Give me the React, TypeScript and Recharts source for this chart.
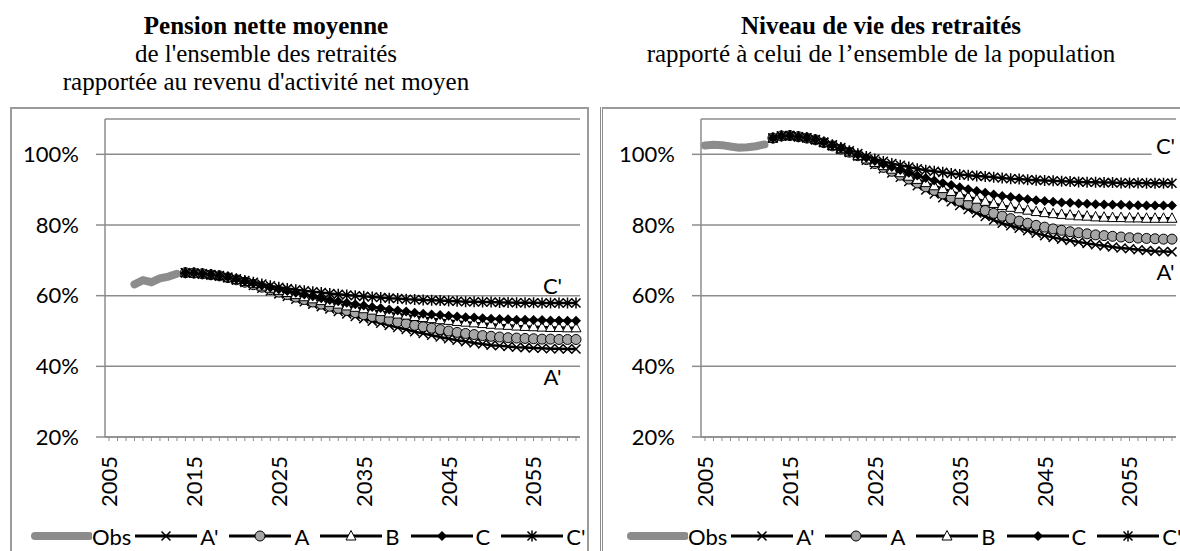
import React from 'react'
import { LineChart, Line, XAxis, YAxis, CartesianGrid, Legend, ReferenceDot } from 'recharts'

const years = [
  2005, 2006, 2007, 2008, 2009, 2010, 2011, 2012, 2013, 2014,
  2015, 2016, 2017, 2018, 2019, 2020, 2021, 2022, 2023, 2024,
  2025, 2026, 2027, 2028, 2029, 2030, 2031, 2032, 2033, 2034,
  2035, 2036, 2037, 2038, 2039, 2040, 2041, 2042, 2043, 2044,
  2045, 2046, 2047, 2048, 2049, 2050, 2051, 2052, 2053, 2054,
  2055, 2056, 2057, 2058, 2059, 2060,
]
const labelYears = [2005, 2015, 2025, 2035, 2045, 2055]
const yTicks = [20, 40, 60, 80, 100]

// Pension nette moyenne / revenu d'activité net moyen (%)
const pensionObsStart = 2008
const pensionObs = [63.2, 64.4, 63.8, 64.9, 65.4, 66.2]
const pensionProjStart = 2014
const pensionAp = [
  66.5, 66.4, 66.1, 65.8, 65.5, 65.0, 64.4, 63.7, 62.9, 62.1, 61.3, 60.5,
  59.8, 59.0, 58.3, 57.6, 56.9, 56.2, 55.5, 54.8, 54.1, 53.5, 52.8, 52.2,
  51.6, 51.0, 50.4, 49.8, 49.3, 48.8, 48.3, 47.8, 47.4, 47.0, 46.6, 46.3,
  46.0, 45.8, 45.6, 45.4, 45.3, 45.2, 45.1, 45.0, 45.0, 44.9, 44.9,
]
const pensionA = [
  66.5, 66.4, 66.2, 65.9, 65.6, 65.1, 64.5, 63.8, 63.1, 62.4, 61.7, 61.0,
  60.3, 59.6, 58.9, 58.2, 57.6, 57.0, 56.4, 55.8, 55.2, 54.6, 54.1, 53.6,
  53.1, 52.6, 52.1, 51.6, 51.2, 50.8, 50.4, 50.0, 49.6, 49.3, 49.0, 48.7,
  48.5, 48.3, 48.1, 48.0, 47.9, 47.8, 47.7, 47.7, 47.6, 47.6, 47.6,
]
const pensionB = [
  66.5, 66.4, 66.2, 66.0, 65.7, 65.2, 64.6, 64.0, 63.4, 62.7, 62.1, 61.5,
  60.9, 60.3, 59.7, 59.1, 58.6, 58.1, 57.6, 57.1, 56.7, 56.3, 55.9, 55.5,
  55.1, 54.8, 54.5, 54.1, 53.8, 53.5, 53.2, 53.0, 52.7, 52.5, 52.3, 52.1,
  51.9, 51.7, 51.6, 51.4, 51.3, 51.2, 51.1, 51.0, 51.0, 50.9, 50.9,
]
const pensionC = [
  66.5, 66.4, 66.2, 66.0, 65.7, 65.3, 64.7, 64.1, 63.5, 62.9, 62.3, 61.8,
  61.3, 60.8, 60.3, 59.8, 59.3, 58.8, 58.4, 58.0, 57.6, 57.2, 56.8, 56.5,
  56.1, 55.8, 55.5, 55.2, 54.9, 54.7, 54.5, 54.3, 54.1, 53.9, 53.8, 53.6,
  53.5, 53.4, 53.3, 53.2, 53.2, 53.1, 53.1, 53.0, 53.0, 52.9, 52.9,
]
const pensionCp = [
  66.5, 66.4, 66.2, 66.0, 65.7, 65.3, 64.8, 64.3, 63.8, 63.3, 62.8, 62.4,
  62.0, 61.7, 61.4, 61.1, 60.9, 60.6, 60.4, 60.2, 60.0, 59.8, 59.6, 59.5,
  59.3, 59.2, 59.0, 58.9, 58.8, 58.7, 58.6, 58.5, 58.4, 58.3, 58.3, 58.2,
  58.2, 58.1, 58.1, 58.0, 58.0, 58.0, 57.9, 57.9, 57.9, 57.9, 57.9,
]

// Niveau de vie des retraités / ensemble de la population (%)
const niveauObsStart = 2005
const niveauObs = [102.5, 102.7, 102.6, 102.2, 101.9, 102.0, 102.3, 102.8]
const niveauProjStart = 2013
const niveauAp = [
  104.6, 105.2, 105.3, 105.0, 104.6, 104.1, 103.3, 102.4, 101.4, 100.5,
  99.5, 98.3, 97.1, 95.9, 94.7, 93.5, 92.3, 91.1, 89.9, 88.8, 87.7, 86.6,
  85.5, 84.4, 83.4, 82.4, 81.4, 80.5, 79.8, 79.1, 78.4, 77.7, 77.0, 76.5,
  76.0, 75.6, 75.2, 74.8, 74.4, 74.1, 73.8, 73.5, 73.3, 73.0, 72.8, 72.6,
  72.5, 72.4,
]
const niveauA = [
  104.6, 105.2, 105.3, 105.0, 104.6, 104.1, 103.3, 102.4, 101.5, 100.6,
  99.6, 98.5, 97.4, 96.3, 95.2, 94.1, 93.0, 91.9, 90.8, 89.8, 88.8, 87.8,
  86.8, 85.9, 85.0, 84.1, 83.3, 82.5, 81.8, 81.1, 80.5, 79.9, 79.4, 78.9,
  78.5, 78.1, 77.8, 77.5, 77.2, 77.0, 76.8, 76.6, 76.4, 76.3, 76.2, 76.1,
  76.0, 76.0,
]
const niveauB = [
  104.6, 105.2, 105.3, 105.0, 104.7, 104.2, 103.4, 102.5, 101.6, 100.7,
  99.7, 98.7, 97.7, 96.8, 95.8, 94.8, 93.8, 92.9, 92.0, 91.1, 90.3, 89.5,
  88.7, 88.0, 87.3, 86.7, 86.1, 85.5, 85.0, 84.6, 84.2, 83.8, 83.5, 83.2,
  83.0, 82.8, 82.6, 82.5, 82.3, 82.2, 82.1, 82.1, 82.0, 82.0, 81.9, 81.9,
  81.9, 81.9,
]
const niveauC = [
  104.6, 105.2, 105.3, 105.0, 104.7, 104.2, 103.4, 102.6, 101.7, 100.8,
  99.9, 99.0, 98.1, 97.2, 96.4, 95.6, 94.8, 94.0, 93.3, 92.6, 91.9, 91.3,
  90.7, 90.1, 89.6, 89.1, 88.6, 88.2, 87.9, 87.6, 87.3, 87.0, 86.8, 86.6,
  86.4, 86.3, 86.1, 86.0, 85.9, 85.8, 85.7, 85.7, 85.6, 85.6, 85.5, 85.5,
  85.5, 85.5,
]
const niveauCp = [
  104.6, 105.2, 105.3, 105.0, 104.7, 104.2, 103.5, 102.7, 101.9, 101.0,
  100.2, 99.4, 98.7, 98.0, 97.4, 96.9, 96.4, 95.9, 95.5, 95.2, 94.9, 94.6,
  94.3, 94.1, 93.9, 93.7, 93.5, 93.3, 93.1, 93.0, 92.8, 92.7, 92.6, 92.5,
  92.4, 92.3, 92.2, 92.1, 92.1, 92.0, 92.0, 91.9, 91.9, 91.9, 91.8, 91.8,
  91.8, 91.8,
]

const GRAY = '#8c8c8c'
const SANS = 'Lato, "Noto Sans", sans-serif'
const SERIF = '"Liberation Serif", "Times New Roman", serif'

function buildRows(
  obsStart: number,
  obs: number[],
  projStart: number,
  proj: Record<string, number[]>,
) {
  return years.map((year) => {
    const row: Record<string, number | null> = { year }
    const oi = year - obsStart
    row.Obs = oi >= 0 && oi < obs.length ? obs[oi] : null
    const pi = year - projStart
    Object.keys(proj).forEach((k) => {
      row[k] = pi >= 0 && pi < proj[k].length ? proj[k][pi] : null
    })
    return row
  })
}

const pensionRows = buildRows(pensionObsStart, pensionObs, pensionProjStart, {
  Ap: pensionAp, A: pensionA, B: pensionB, C: pensionC, Cp: pensionCp,
})
const niveauRows = buildRows(niveauObsStart, niveauObs, niveauProjStart, {
  Ap: niveauAp, A: niveauA, B: niveauB, C: niveauC, Cp: niveauCp,
})

// marker shapes
function Marker({ kind, cx, cy }: { kind: string; cx: number; cy: number }) {
  const s = 4.5
  if (kind === 'Ap')
    return (
      <path
        d={`M${cx - s},${cy - s}L${cx + s},${cy + s}M${cx + s},${cy - s}L${cx - s},${cy + s}`}
        stroke="#000" strokeWidth={1.5} fill="none"
      />
    )
  if (kind === 'A')
    return <circle cx={cx} cy={cy} r={5} fill="#a6a6a6" stroke="#000" strokeWidth={1} />
  if (kind === 'B')
    return (
      <path
        d={`M${cx},${cy - 5.5}L${cx + 5},${cy + 4}L${cx - 5},${cy + 4}Z`}
        fill="#fff" stroke="#000" strokeWidth={1}
      />
    )
  if (kind === 'C')
    return <path d={`M${cx},${cy - 5}L${cx + 5},${cy}L${cx},${cy + 5}L${cx - 5},${cy}Z`} fill="#000" />
  return (
    <path
      d={`M${cx - s},${cy - s}L${cx + s},${cy + s}M${cx + s},${cy - s}L${cx - s},${cy + s}M${cx},${cy - 5.5}L${cx},${cy + 5.5}`}
      stroke="#000" strokeWidth={1.5} fill="none"
    />
  )
}

const makeDot = (kind: string) => (props: any) => {
  const { cx, cy, index } = props
  if (cx == null || cy == null || props.value == null) return <g key={`${kind}-${index}`} />
  return (
    <g key={`${kind}-${index}`}>
      <Marker kind={kind} cx={cx} cy={cy} />
    </g>
  )
}

function YearTick(props: any) {
  const { x, y, payload } = props
  if (!labelYears.includes(payload.value)) return <g />
  return (
    <text
      transform={`translate(${x},${y}) rotate(-90)`}
      textAnchor="end" dy="0.36em"
      fontFamily={SANS} fontSize={22} fill="#000"
    >
      {payload.value}
    </text>
  )
}

function NoteLabel(props: any) {
  const { viewBox, text, dx = 0, bg } = props
  const cx = viewBox.x + (viewBox.width || 0) / 2 + dx
  const cy = viewBox.y + (viewBox.height || 0) / 2
  return (
    <g>
      {bg && <rect x={cx - 14} y={cy - 12} width={28} height={24} fill="#fff" />}
      <text x={cx} y={cy} dy="0.36em" textAnchor="middle" fontFamily={SANS} fontSize={22} fill="#000">
        {text}
      </text>
    </g>
  )
}

const legendItems = [
  { key: 'Ap', label: "A'" },
  { key: 'A', label: 'A' },
  { key: 'B', label: 'B' },
  { key: 'C', label: 'C' },
  { key: 'Cp', label: "C'" },
]

function LegendRow() {
  return (
    <div
      style={{
        display: 'flex', alignItems: 'center', height: 30, whiteSpace: 'nowrap',
        fontFamily: SANS, fontSize: 22, color: '#000',
      }}
    >
      <svg width={62} height={30} style={{ flex: 'none' }}>
        <line x1={5} x2={59} y1={15} y2={15} stroke={GRAY} strokeWidth={8} strokeLinecap="round" />
      </svg>
      <span style={{ marginRight: 3 }}>Obs</span>
      {legendItems.map((it) => (
        <React.Fragment key={it.key}>
          <svg width={64} height={30} style={{ flex: 'none' }}>
            <line x1={1} x2={63} y1={15} y2={15} stroke="#000" strokeWidth={3} />
            <Marker kind={it.key} cx={32} cy={15} />
          </svg>
          <span style={{ marginLeft: 2, marginRight: 10 }}>{it.label}</span>
        </React.Fragment>
      ))}
    </div>
  )
}

function Panel({
  rows, width, notes,
}: {
  rows: Record<string, number | null>[]
  width: number
  notes: { x: number; y: number; text: string; dx: number; bg?: boolean }[]
}) {
  return (
    <LineChart width={width} height={443} data={rows} margin={{ top: 11, right: width - 580, left: 0, bottom: 0 }}>
      <CartesianGrid vertical={false} stroke={GRAY} strokeWidth={1.5} />
      <XAxis
        dataKey="year" type="category" interval={0} height={84}
        padding={{ left: 4, right: 4 }} tickSize={4} tickMargin={15}
        axisLine={{ stroke: GRAY, strokeWidth: 1.5 }} tickLine={{ stroke: GRAY }}
        tick={<YearTick />}
      />
      <YAxis
        type="number" domain={[20, 110]} ticks={yTicks} width={105}
        tickSize={9} tickMargin={17} tickFormatter={(v: number) => `${v}%`}
        tick={{ fill: '#000', fontFamily: SANS, fontSize: 22 }}
        axisLine={{ stroke: GRAY, strokeWidth: 1.5 }} tickLine={{ stroke: GRAY, strokeWidth: 1.5 }}
      />
      <Legend
        verticalAlign="bottom"
        content={() => <LegendRow />}
        wrapperStyle={{ left: 30, top: 413, bottom: 'auto', width: 660, height: 30 }}
      />
      <Line dataKey="Obs" name="Obs" stroke={GRAY} strokeWidth={8} strokeLinecap="round" dot={false} isAnimationActive={false} />
      <Line dataKey="Ap" name="A'" stroke="#000" strokeWidth={2.5} dot={makeDot('Ap')} isAnimationActive={false} />
      <Line dataKey="A" name="A" stroke="#000" strokeWidth={2.5} dot={makeDot('A')} isAnimationActive={false} />
      <Line dataKey="B" name="B" stroke="#000" strokeWidth={2.5} dot={makeDot('B')} isAnimationActive={false} />
      <Line dataKey="C" name="C" stroke="#000" strokeWidth={2.5} dot={makeDot('C')} isAnimationActive={false} />
      <Line dataKey="Cp" name="C'" stroke="#000" strokeWidth={2.5} dot={makeDot('Cp')} isAnimationActive={false} />
      {notes.map((n) => (
        <ReferenceDot
          key={n.text} x={n.x} y={n.y} r={0} fill="none" stroke="none"
          label={<NoteLabel text={n.text} dx={n.dx} bg={n.bg} />}
        />
      ))}
    </LineChart>
  )
}

const titleStyle: React.CSSProperties = {
  position: 'absolute', top: 12, width: 600, textAlign: 'center',
  fontFamily: SERIF, fontSize: 25, lineHeight: '28px', color: '#000', whiteSpace: 'nowrap',
}

export default function App() {
  return (
    <div style={{ position: 'absolute', left: 0, top: 0, width: 1180, height: 551, overflow: 'hidden', background: '#fff' }}>
      <div style={{ ...titleStyle, left: -34 }}>
        <div style={{ fontWeight: 'bold' }}>Pension nette moyenne</div>
        <div>de l'ensemble des retraités</div>
        <div>rapportée au revenu d'activité net moyen</div>
      </div>
      <div style={{ ...titleStyle, left: 581 }}>
        <div style={{ fontWeight: 'bold' }}>Niveau de vie des retraités</div>
        <div>rapporté à celui de l’ensemble de la population</div>
      </div>

      <div style={{ position: 'absolute', left: 10, top: 107, width: 579, height: 460, boxSizing: 'border-box', border: '2px solid #9b9b9b' }} />
      <div style={{ position: 'absolute', left: 600, top: 107, width: 1, height: 460, background: '#8c8c8c' }} />
      <div style={{ position: 'absolute', left: 602, top: 107, width: 600, height: 460, boxSizing: 'border-box', borderTop: '2px solid #9b9b9b', borderLeft: '1px solid #8c8c8c' }} />

      <div style={{ position: 'absolute', left: 0, top: 108, width: 587, height: 443, overflow: 'hidden' }}>
        <Panel
          rows={pensionRows}
          width={589}
          notes={[
            { x: 2057, y: 62.8, text: "C'", dx: 2 },
            { x: 2057, y: 37.1, text: "A'", dx: 2 },
          ]}
        />
      </div>
      <div style={{ position: 'absolute', left: 603, top: 108, width: 577, height: 443, overflow: 'hidden' }}>
        <div style={{ marginLeft: -7 }}>
          <Panel
            rows={niveauRows}
            width={584}
            notes={[
              { x: 2059, y: 102.4, text: "C'", dx: 2, bg: true },
              { x: 2059, y: 66.8, text: "A'", dx: 2 },
            ]}
          />
        </div>
      </div>
    </div>
  )
}
